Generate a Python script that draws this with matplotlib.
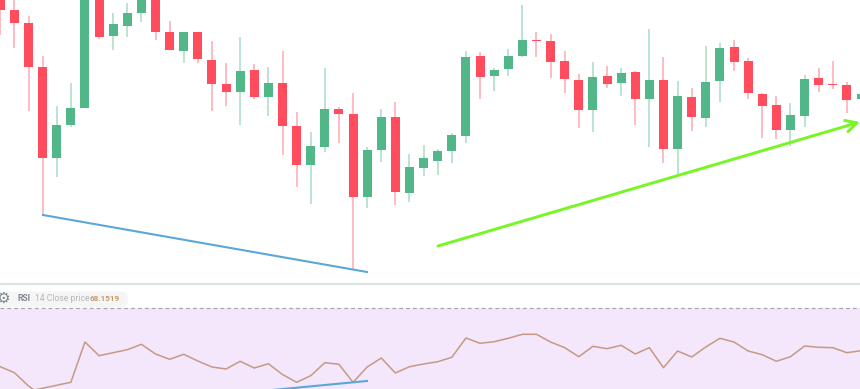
import numpy as np
import matplotlib
matplotlib.use('Agg')
import matplotlib.pyplot as plt
from matplotlib.patches import FancyBboxPatch

# Candle values (screen scale, smaller = higher price)
body_top = [-5, 10.3, 22.7, 67.3, 124.7, 108.3, -10, -10, 24.3, 12.7, -10, -10, 32.3, 32.3, 32.3, 59.7, 84, 70.7, 69.7, 83,
            83, 125.7, 145.7, 109, 109, 114, 149.7, 116.7, 117.3, 167, 158, 150.7, 135, 57.3, 56, 69.7, 55.7, 40, 39.7, 40.7,
            61, 80, 77, 76.3, 73, 72.3, 80.3, 80.3, 96.3, 97.3, 82, 48.3, 47.3, 61, 94, 104.7, 115, 79, 78.3, 83.7, 85.3, 94.3]
body_bot = [10, 23.3, 67.3, 158.3, 157.7, 125, 108.3, 37.3, 36, 26, 12.7, 32.3, 50.3, 50.7, 59, 84, 92.3, 91.7, 96.7, 97,
            125.7, 165, 165.3, 146.7, 114.3, 196.7, 197.3, 150.3, 192.3, 193, 168, 161, 150.7, 135.7, 77.3, 75.7, 69.3, 55.7, 40.7, 62,
            79.3, 110, 110, 84, 83.3, 99.3, 98.7, 149, 149, 117.3, 118.3, 81.3, 62, 93.3, 105.7, 130, 130, 116.3, 84.7, 85.3, 100.3, 99.3]
wick_top = [-5, -5, 15.7, 56, 105.7, 83.3, -10, -10, 12.7, 3.3, -10, -10, 20.7, 32, 32, 41.3, 63.3, 36.7, 64.3, 67.3,
            50.7, 111.7, 131.7, 67.7, 107.3, 93.3, 147, 109, 101.7, 154, 145.3, 148.7, 132.7, 51.3, 51.7, 68.3, 49.3, 5, 32.3, 34.3,
            50.7, 73.7, 61.7, 66, 67.7, 71, 29, 57.3, 81.3, 88.3, 46, 42.7, 40.3, 58.3, 93.3, 96.3, 103, 75.3, 68.3, 60.7, 82.3, 94]
wick_bot = [35, 48, 111, 214.5, 176.7, 126.7, 108.3, 39, 50, 37.3, 21.7, 40, 50.3, 63.3, 62.7, 110.7, 105.7, 125, 99.3, 115.7,
            154.7, 186.7, 204.3, 151.7, 143.3, 270, 208.3, 161.7, 205.3, 202, 176.3, 175, 163.3, 142.7, 99, 90.7, 76.3, 57, 57.3, 78.3,
            92.7, 128.3, 132, 88.3, 95.7, 124.7, 147, 163.3, 173.7, 130.7, 126.7, 101.7, 70.7, 99.3, 138.3, 139, 146, 126.7, 91.7, 89.3, 113.3, 99.3]
is_up = [0, 0, 0, 0, 1, 1, 1, 0, 1, 1, 1, 0, 0, 1, 0, 0, 0, 1, 0, 1,
         0, 0, 1, 1, 0, 0, 1, 1, 0, 1, 1, 1, 1, 1, 0, 1, 1, 1, 0, 0,
         0, 0, 1, 0, 1, 0, 1, 0, 1, 0, 1, 1, 0, 0, 0, 0, 1, 1, 0, 0, 0, 1]

rsi = [366.7, 372.7, 386, 396, 390, 382.3, 342, 355.7, 352.7, 349.7, 344.3, 354, 359.3, 354.3, 361, 367, 369, 361.3, 368, 363.7,
       374.5, 382.3, 375.7, 362.7, 364.3, 382.3, 367, 358, 373, 366.7, 364, 361.7, 357.3, 338, 343.3, 341.7, 338.3, 334.3, 334.3, 342,
       347.7, 356.7, 346.3, 348.7, 345.3, 354, 347.7, 367.7, 351, 357, 347, 338.3, 342, 351, 354.7, 361.3, 356.7, 346, 347.3, 347.7, 352.7, 350.7]

# Hand drawn trend lines
blue_x, blue_y = [43, 367], [215, 272]
rsi_blue_x, rsi_blue_y = [262, 367], [391, 381]
green_start, green_end = (438, 246), (860, 122)

UP = '#52B788'
DOWN = '#FF4D5E'
X0, STEP = 0.3, 14.11
WIDTH = 9

fig = plt.figure(figsize=(8.6, 3.89), dpi=100)
ax = fig.add_axes([0, 0, 1, 1])
ax.set_xlim(0, 860)
ax.set_ylim(389, 0)
ax.axis('off')

x = X0 + STEP * np.arange(len(is_up))
top, bot = np.array(body_top), np.array(body_bot)
colors = [UP if u else DOWN for u in is_up]

ax.vlines(x, wick_top, wick_bot, colors=colors, linewidth=1.2, alpha=0.45, zorder=2)
ax.bar(x, bot - top, bottom=top, width=WIDTH, color=colors, zorder=3)

# Trend lines
ax.plot(blue_x, blue_y, color='#5AA7D8', lw=1.5, zorder=4)
ax.annotate('', xy=green_end, xytext=green_start, zorder=4,
            arrowprops=dict(arrowstyle='->,head_length=0.8,head_width=0.42', color='#78F525', lw=2.1,
                            shrinkA=0, shrinkB=0))

# RSI pane
ax.axhline(284, color='#DCE3E6', lw=1.6)
ax.axhspan(308, 389, color='#F4E6FB', lw=0, zorder=1)
ax.plot([0, 860], [308, 308], color='#A9A9AD', lw=0.9, ls=(0, (3, 2.5)), zorder=2)
ax.plot(x, rsi, color='#C39B84', lw=1.1, zorder=3)
ax.plot(rsi_blue_x, rsi_blue_y, color='#5AA7D8', lw=1.5, zorder=4)

# Legend pill
ax.add_patch(FancyBboxPatch((-10, 291.5), 138, 15.5, boxstyle='round,pad=0,rounding_size=7.5',
                            fc='#F5F5F5', ec='none', zorder=2))
ax.text(3, 298.5, '\u2699', family='DejaVu Sans', fontsize=11, color='#7E8790', ha='center', va='center', zorder=5)
ax.text(18, 298.5, 'RSI', family='Roboto', fontsize=6.2, weight='bold', color='#7E8790', va='center', zorder=5)
ax.text(35, 298.5, '14 Close price', family='Roboto', fontsize=6.2, color='#B3B8BD', va='center', zorder=5)
ax.text(90, 298.5, '68.1519', family='Roboto', fontsize=5.9, weight='bold', color='#C49A6C', va='center', zorder=5)

fig.savefig('out.png', dpi=100)
